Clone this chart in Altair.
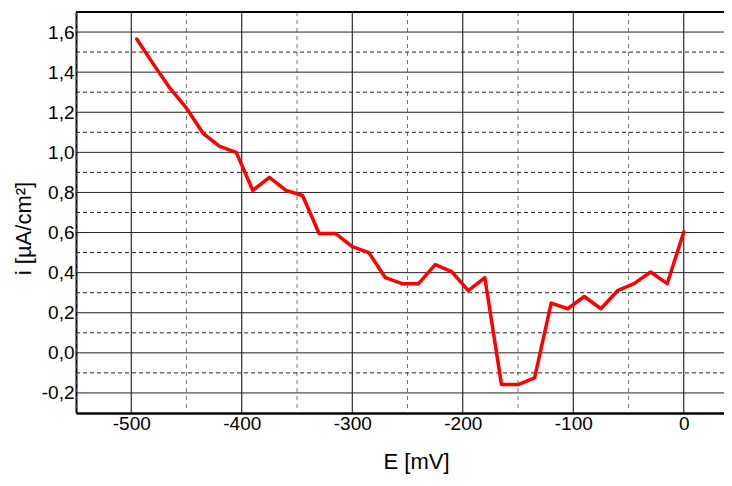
import altair as alt
import pandas as pd

# Data
E_mV = [-495, -480, -465, -450, -435, -420, -405, -390, -375, -360, -345, -330,
        -315, -300, -285, -270, -255, -240, -225, -210, -195, -180, -165, -150,
        -135, -120, -105, -90, -75, -60, -45, -30, -15, 0]
i_uA = [1.565, 1.44, 1.32, 1.22, 1.095, 1.03, 1.0, 0.81, 0.875, 0.81, 0.785, 0.595,
        0.595, 0.53, 0.50, 0.375, 0.345, 0.345, 0.44, 0.405, 0.31, 0.375, -0.158, -0.158,
        -0.125, 0.248, 0.22, 0.281, 0.22, 0.31, 0.345, 0.403, 0.345, 0.603]

x_major = [-500, -400, -300, -200, -100, 0]
x_minor = [-550, -450, -350, -250, -150, -50]
y_major = [-0.2, 0.0, 0.2, 0.4, 0.6, 0.8, 1.0, 1.2, 1.4, 1.6]
y_minor = [-0.1, 0.1, 0.3, 0.5, 0.7, 0.9, 1.1, 1.3, 1.5]

X_DOMAIN = [-550, 36.4]
Y_DOMAIN = [-0.3, 1.7]
W, H = 648, 401
FONT = "Liberation Sans"

df = pd.DataFrame({"E": E_mV, "i": i_uA})

xscale = alt.Scale(domain=X_DOMAIN, nice=False, zero=False)
yscale = alt.Scale(domain=Y_DOMAIN, nice=False, zero=False)

x_axis = alt.Axis(
    values=x_major,
    labelExpr="replace('' + datum.value, '\u2212', '-')",
    grid=False, ticks=False, domain=True, domainColor="black", domainWidth=2.5,
    labelFont=FONT, labelFontSize=19, labelColor="black", labelPadding=1,
    title="E [mV]", titleFont=FONT, titleFontSize=22, titleFontWeight="normal",
    titleColor="black", titleX=340, titleY=55, titleBaseline="alphabetic",
    titleAlign="center",
)
y_axis = alt.Axis(
    values=y_major,
    labelExpr="replace(replace(format(datum.value, '.1f'), '.', ','), '\u2212', '-')",
    grid=False, ticks=False, domain=True, domainColor="black", domainWidth=2,
    labelFont=FONT, labelFontSize=19, labelColor="black", labelPadding=2,
    title="i [µA/cm²]", titleFont=FONT, titleFontSize=22, titleFontWeight="normal",
    titleColor="black", titleX=-46, titleY=216, titleBaseline="alphabetic",
    titleAlign="center", titleAngle=270,
)

vminor = alt.Chart(pd.DataFrame({"x": x_minor})).mark_rule(
    color="#777777", strokeWidth=1, strokeDash=[4, 4]
).encode(x=alt.X("x:Q", scale=xscale, axis=x_axis))

vmajor = alt.Chart(pd.DataFrame({"x": x_major})).mark_rule(
    color="black", strokeWidth=1
).encode(x=alt.X("x:Q", scale=xscale))

hminor = alt.Chart(pd.DataFrame({"y": y_minor})).mark_rule(
    color="#222222", strokeWidth=1, strokeDash=[4, 3]
).encode(y=alt.Y("y:Q", scale=yscale, axis=y_axis))

hmajor = alt.Chart(pd.DataFrame({"y": y_major})).mark_rule(
    color="#222222", strokeWidth=1
).encode(y=alt.Y("y:Q", scale=yscale))

top_border = alt.Chart(pd.DataFrame({"a": [0]})).mark_rule(
    color="black", strokeWidth=2
).encode(x=alt.value(0), x2=alt.value(W), y=alt.value(0))

line = alt.Chart(df).mark_line(
    color="#ff0000", strokeWidth=3.5, strokeJoin="round", strokeCap="round"
).encode(
    x=alt.X("E:Q", scale=xscale),
    y=alt.Y("i:Q", scale=yscale),
)

chart = alt.layer(vminor, vmajor, hminor, hmajor, top_border, line).properties(
    width=W, height=H,
    autosize=alt.AutoSizeParams(type="none"),
    padding={"left": 68, "top": 4, "right": 0, "bottom": 61},
    background="white",
).configure_view(strokeWidth=0)

chart.save("out.html", embed_options={"renderer": "svg", "actions": False})
